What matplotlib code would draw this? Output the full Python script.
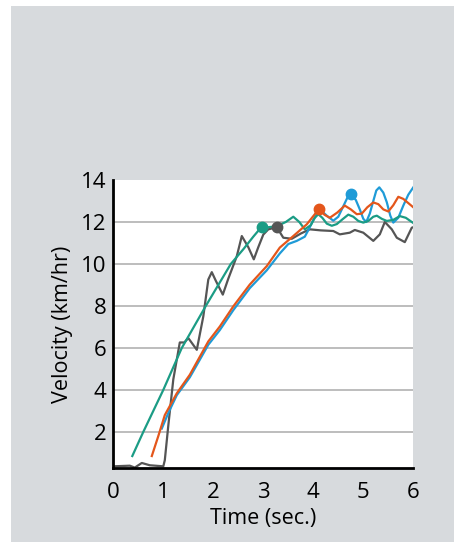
import numpy as np
import matplotlib
matplotlib.use('Agg')
import matplotlib.pyplot as plt
from matplotlib.patches import Rectangle

plt.rcParams['font.family'] = ['Open Sans', 'DejaVu Sans']

# time (sec) and velocity (km/hr)
green_t = [0.38, 0.6, 1.0, 1.37, 1.85, 2.1, 2.35, 2.6, 2.8, 2.97, 3.1, 3.27, 3.45, 3.6,
           3.72, 3.83, 3.95, 4.03, 4.1, 4.18, 4.27, 4.37, 4.47, 4.58, 4.7, 4.8, 4.9, 5.0,
           5.1, 5.2, 5.27, 5.37, 5.47, 5.6, 5.73, 5.85, 6.0]
green_v = [0.85, 2.0, 4.0, 6.0, 8.0, 9.0, 10.0, 10.7, 11.3, 11.78, 11.75, 11.8, 12.0, 12.25,
           12.0, 11.65, 11.85, 12.2, 12.37, 12.2, 11.92, 11.82, 11.9, 12.12, 12.35, 12.25, 12.05, 11.97,
           12.05, 12.25, 12.3, 12.15, 12.05, 12.1, 12.28, 12.2, 11.95]

gray_t = [0.0, 0.33, 0.43, 0.57, 0.73, 1.0, 1.03, 1.1, 1.2, 1.33, 1.42, 1.5, 1.67, 1.8,
          1.9, 1.97, 2.05, 2.19, 2.3, 2.37, 2.47, 2.57, 2.7, 2.81, 2.9, 3.0, 3.1, 3.27,
          3.4, 3.57, 3.75, 3.93, 4.15, 4.4, 4.53, 4.73, 4.83, 5.0, 5.2, 5.33, 5.43, 5.57,
          5.67, 5.83, 5.97, 6.0]
gray_v = [0.36, 0.39, 0.3, 0.52, 0.41, 0.36, 0.65, 2.3, 4.5, 6.26, 6.26, 6.47, 5.91, 7.5,
          9.26, 9.61, 9.2, 8.54, 9.3, 9.74, 10.37, 11.33, 10.8, 10.22, 10.8, 11.4, 11.65, 11.75,
          11.25, 11.2, 11.45, 11.65, 11.6, 11.57, 11.41, 11.49, 11.62, 11.49, 11.1, 11.41, 12.0, 11.65,
          11.25, 11.04, 11.73, 11.75]

orange_t = [0.77, 0.9, 1.03, 1.27, 1.53, 1.9, 2.13, 2.4, 2.73, 3.07, 3.33, 3.6, 3.87, 4.12,
            4.22, 4.33, 4.48, 4.63, 4.75, 4.87, 4.97, 5.08, 5.2, 5.3, 5.4, 5.5, 5.6, 5.7,
            5.8, 5.9, 6.0]
orange_v = [0.85, 1.8, 2.8, 3.84, 4.72, 6.31, 7.02, 7.98, 9.02, 9.9, 10.78, 11.33, 11.89, 12.64,
            12.35, 12.2, 12.45, 12.78, 12.6, 12.37, 12.4, 12.7, 12.93, 12.85, 12.6, 12.5, 12.8, 13.2,
            13.1, 12.9, 12.7]

blue_t = [0.97, 1.1, 1.27, 1.53, 1.9, 2.13, 2.4, 2.73, 3.07, 3.33, 3.5, 3.67, 3.83, 3.92, 4.0,
          4.13, 4.27, 4.4, 4.5, 4.6, 4.68, 4.75, 4.85, 4.93, 5.0, 5.06, 5.13, 5.2, 5.26, 5.32,
          5.4, 5.47, 5.54, 5.6, 5.7, 5.8, 5.9, 6.0]
blue_v = [2.16, 2.9, 3.75, 4.6, 6.15, 6.85, 7.8, 8.85, 9.7, 10.5, 10.95, 11.1, 11.3, 11.7, 12.1,
          12.6, 12.3, 12.06, 12.25, 12.75, 13.15, 13.32, 13.05, 12.6, 12.15, 12.0, 12.4, 13.0, 13.5, 13.65,
          13.4, 12.94, 12.3, 11.97, 12.2, 12.78, 13.3, 13.65]

# peak markers
peak_t = {'green': 2.97, 'gray': 3.27, 'orange': 4.12, 'blue': 4.75}
peak_v = {'green': 11.78, 'gray': 11.75, 'orange': 12.64, 'blue': 13.32}

colors = {'green': '#1b9c85', 'gray': '#555555', 'orange': '#e4561b', 'blue': '#1f9bd7'}

fig = plt.figure(figsize=(4.54, 5.42), dpi=100, facecolor='white')
fig.patches.append(Rectangle((11 / 454, 0), 1 - 11 / 454, 536 / 542, transform=fig.transFigure,
                             facecolor='#d7dadd', edgecolor='none', zorder=-10))

ax = fig.add_axes([113.3 / 454, 74 / 542, 300 / 454, 288 / 542])
ax.set_facecolor('white')

yt = [2, 4, 6, 8, 10, 12, 14]
ax.hlines(yt[:-1], 0, 6, color='#ababab', lw=1.1, zorder=1)

ax.plot(blue_t, blue_v, color=colors['blue'], lw=1.6, zorder=3)
ax.plot(orange_t, orange_v, color=colors['orange'], lw=1.6, zorder=4)
ax.plot(green_t, green_v, color=colors['green'], lw=1.6, zorder=3)
ax.plot(gray_t, gray_v, color=colors['gray'], lw=1.6, zorder=2)
for k in peak_t:
    ax.plot(peak_t[k], peak_v[k], 'o', color=colors[k], ms=7.5, zorder=5)

ax.set_xlim(0, 6)
ax.set_ylim(0.28, 14)
ax.set_xticks(range(7))
ax.set_yticks(yt)
ax.tick_params(length=0, labelsize=16)
ax.tick_params(axis='x', pad=10)
ax.tick_params(axis='y', pad=5)
for s in ['top', 'right']:
    ax.spines[s].set_visible(False)
for s in ['left', 'bottom']:
    ax.spines[s].set_linewidth(2)
    ax.spines[s].set_color('black')
ax.set_xlabel('Time (sec.)', fontsize=15.5, labelpad=4)
ax.set_ylabel('Velocity (km/hr)', fontsize=15.5, labelpad=6)

fig.savefig('out.png', dpi=100, facecolor=fig.get_facecolor())
